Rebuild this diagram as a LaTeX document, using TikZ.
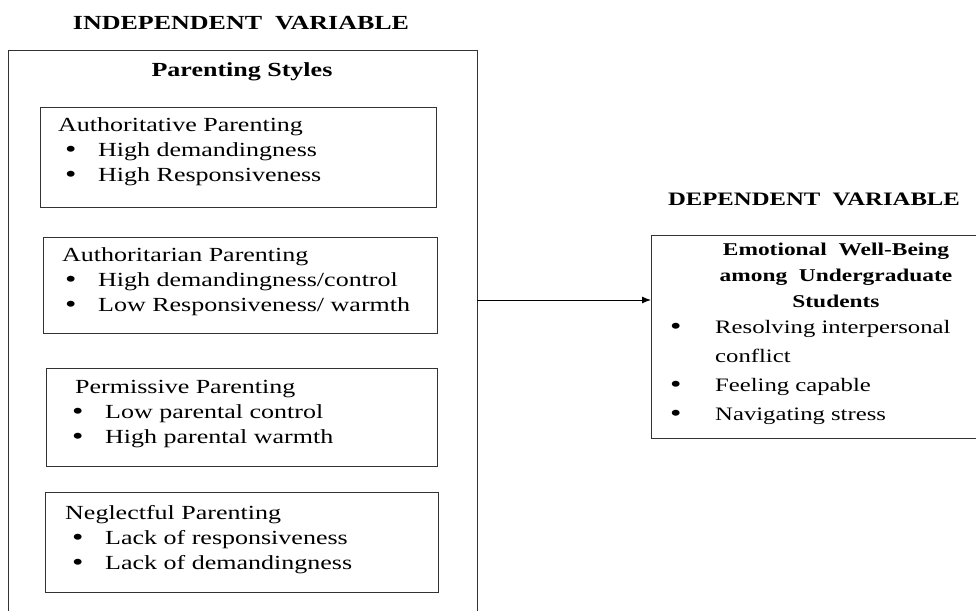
\documentclass[tikz,border=0pt]{standalone}
\usepackage{fontspec}
\setmainfont{Liberation Serif}[FakeStretch=1.3]
\usetikzlibrary{arrows.meta}
\newcommand{\pitem}[3][33pt]{\hspace*{#2}\makebox[#1][l]{\raisebox{-1.5pt}{\fontsize{25}{0}\selectfont\textbullet}}#3}

\begin{document}
\begin{tikzpicture}[x=1pt, y=-1pt,
    framebox/.style={draw=black!80, line width=1.2pt, inner sep=0pt, anchor=north west},
    listtext/.style={anchor=north west, inner sep=0pt, align=left, font=\fontsize{20}{25}\selectfont},
    headtext/.style={inner sep=0pt, font=\fontsize{20}{24}\selectfont\bfseries}]
  \useasboundingbox (0,0) rectangle (976,610);
  \clip (0,0) rectangle (976,610);

  % independent variable
  \node[headtext, anchor=base] (ivtitle) at (241,30) {INDEPENDENT\ \ VARIABLE};
  \node[framebox, minimum width=469pt, minimum height=600pt] (ivbox) at (8,50) {};
  \node[headtext, anchor=base] (ivhead) at (242,77) {Parenting Styles};

  \node[framebox, minimum width=396pt, minimum height=100pt] (authoritative) at (40,107) {};
  \node[listtext] (authoritativetext) at (58,117) {Authoritative Parenting\\ \pitem{7pt}{High demandingness}\\ \pitem{7pt}{High Responsiveness}};

  \node[framebox, minimum width=394pt, minimum height=96pt] (authoritarian) at (43,237) {};
  \node[listtext] (authoritariantext) at (62,247) {Authoritarian Parenting\\ \pitem{3pt}{High demandingness/control}\\ \pitem{3pt}{Low Responsiveness/ warmth}};

  \node[framebox, minimum width=391pt, minimum height=98pt] (permissive) at (46,368) {};
  \node[listtext] (permissivetext) at (75,380) {Permissive Parenting\\ \pitem{-3pt}{Low parental control}\\ \pitem{-3pt}{High parental warmth}};

  \node[framebox, minimum width=393pt, minimum height=100pt] (neglectful) at (45,492) {};
  \node[listtext] (neglectfultext) at (65,505) {Neglectful Parenting\\ \pitem{7pt}{Lack of responsiveness}\\ \pitem{7pt}{Lack of demandingness}};

  % dependent variable
  \node[headtext, anchor=base, font=\fontsize{19}{24}\selectfont\bfseries] (dvtitle) at (814,205) {DEPENDENT\ \ VARIABLE};
  \node[framebox, minimum width=340pt, minimum height=203pt] (dvbox) at (651,235) {};
  \node[headtext, align=center, anchor=north, font=\fontsize{18}{26}\selectfont\bfseries] (dvhead) at (836,243) {Emotional\ \ Well-Being\\ among\ \ Undergraduate\\ Students};
  \node[listtext, font=\fontsize{19}{29}\selectfont] (dvitems) at (670,320) {\pitem[45pt]{0pt}{Resolving interpersonal}\\ \hspace*{45pt}conflict\\ \pitem[45pt]{0pt}{Feeling capable}\\ \pitem[45pt]{0pt}{Navigating stress}};

  \coordinate (arrowstart) at (477,300);
  \draw[line width=1pt, -{Latex[length=9pt,width=7pt]}] (arrowstart) -- (arrowstart -| dvbox.west);
\end{tikzpicture}
\end{document}
